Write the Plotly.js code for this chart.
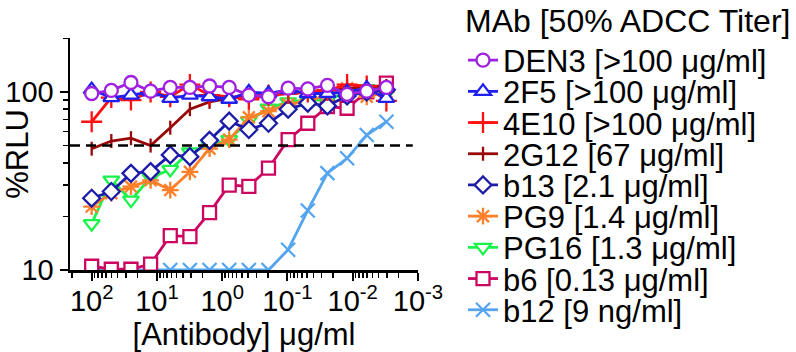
<!DOCTYPE html>
<html>
<head>
<meta charset="utf-8">
<script src="https://cdn.plot.ly/plotly-3.0.1.min.js"></script>
<style>
  html, body { margin: 0; padding: 0; background: #ffffff; }
  #chart { width: 796px; height: 352px; }
</style>
</head>
<body>
<div id="chart"></div>
<script>
// Two-fold antibody dilution series (µg/ml)
const concentration = [100, 50, 25, 12.5, 6.25, 3.125, 1.5625, 0.78125, 0.390625,
  0.1953125, 0.09765625, 0.048828125, 0.0244140625, 0.01220703125,
  0.006103515625, 0.0030517578125];

// %RLU for each monoclonal antibody
const den3 = [98, 102, 113, 101, 106, 106, 108, 106, 96, 94, 105, 104, 109, 97, 101, 106];
const mab2F5 = [103, 93, 96, 100, 92, 96, 94, 91, 100, 98, 103, 98, 98, 100, 105, 92];
const mab4E10 = [68, 93, 90, 100, 94, 110, 96, 94, 91, 96, 98, 100, 102, 110, 108, 89];
const mab2G12 = [48, 53, 55, 50, 63, 80, 88, 92, 94, 96, 98, 100, 102, 104, 107, 108];
const b13 = [25.3, 27.6, 34.9, 35.7, 44.3, 43.3, 53.5, 68.5, 61.5, 66.7, 80, 86.5, 83.5, 95, 100, 103];
const pg9 = [22.7, 27, 29.4, 31.9, 28.1, 35.6, 48, 54, 72, 78, 85, 90, 95, 105, 94, 100];
const pg16 = [18.2, 32, 24.7, 33, 36.7, 46, 50, 54, 69, 81, 88, 90, 90, 100, 104, 98];
const b6 = [10.5, 10.1, 10.1, 10.8, 15.6, 15.4, 21, 30, 29.5, 37.3, 54, 66.7, 82.7, 81, 100, 112];
const b12 = [10, 10, 10, 10, 10, 10, 10, 10, 10, 10, 13, 21.6, 35, 42.4, 57.3, 68];

// Legend labels (50% ADCC titer)
const seriesNames = ["DEN3 [>100 \u03bcg/ml]", "2F5 [>100 \u03bcg/ml]", "4E10 [>100 \u03bcg/ml]",
  "2G12 [67 \u03bcg/ml]", "b13 [2.1 \u03bcg/ml]", "PG9 [1.4 \u03bcg/ml]", "PG16 [1.3 \u03bcg/ml]",
  "b6 [0.13 \u03bcg/ml]", "b12 [9 ng/ml]"];
const seriesValues = [den3, mab2F5, mab4E10, mab2G12, b13, pg9, pg16, b6, b12];

const legendTitle = "MAb [50% ADCC Titer]";
const xTickVals = [100, 10, 1, 0.1, 0.01, 0.001];
const xTickText = ["10<sup>2</sup>", "10<sup>1</sup>", "10<sup>0</sup>", "10<sup>-1</sup>",
  "10<sup>-2</sup>", "10<sup>-3</sup>"];
const yTickVals = [10, 100];
const yTickText = ["10", "100"];
const halfMaximal = 50;

// Marker / line styling per series
const styles = [
  {color: "#a020e0", symbol: "circle", size: 13, fill: "white"},
  {color: "#1f1ff0", symbol: "triangle-up", size: 14, fill: "white"},
  {color: "#ff1010", symbol: "cross-thin", size: 15, fill: null},
  {color: "#990808", symbol: "line-ns", size: 10, fill: null},
  {color: "#1c1ca8", symbol: "diamond", size: 13, fill: "white"},
  {color: "#ff7f2a", symbol: "asterisk", size: 14, fill: null},
  {color: "#19f44a", symbol: "triangle-down", size: 14, fill: "white"},
  {color: "#cc0660", symbol: "square", size: 13, fill: "white"},
  {color: "#55a5ee", symbol: "x-thin", size: 14, fill: null}
];

const FONT = "Liberation Sans, Arial, Helvetica, sans-serif";

// Plot area geometry in pixels
const W = 796, H = 352;
const M = {l: 70, r: 378, t: 38, b: 82};
const plotH = H - M.t - M.b, plotW = W - M.l - M.r;
const toPaperY = py => (H - M.b - py) / plotH;
const toPaperX = px => (px - M.l) / plotW;

const legendLeftPx = 463;
const legendFirstPx = 60.5;
const legendStepPx = 31.2;

const traces = [];
const layoutLegends = {};
for (let k = seriesNames.length - 1; k >= 0; k--) {
  const s = styles[k];
  const legendKey = k === 0 ? "legend" : "legend" + (k + 1);
  traces.push({
    type: "scatter",
    mode: "lines+markers",
    name: seriesNames[k],
    x: concentration,
    y: seriesValues[k],
    legend: legendKey,
    line: {color: s.color, width: 2.8},
    marker: {
      symbol: s.symbol,
      size: s.size,
      color: s.fill || s.color,
      line: {color: s.color, width: 2.3}
    },
    cliponaxis: true
  });
  layoutLegends[legendKey] = {
    x: toPaperX(legendLeftPx),
    y: toPaperY(legendFirstPx + k * legendStepPx),
    xanchor: "left",
    yanchor: "middle",
    bgcolor: "rgba(0,0,0,0)",
    borderwidth: 0,
    font: {family: FONT, size: 31, color: "#000"},
    itemclick: false,
    itemdoubleclick: false
  };
}

const layout = Object.assign({
  width: W,
  height: H,
  margin: M,
  paper_bgcolor: "#ffffff",
  plot_bgcolor: "#ffffff",
  font: {family: FONT, color: "#000"},
  showlegend: true,
  xaxis: {
    type: "log",
    range: [2.332, -3],
    tickvals: xTickVals,
    ticktext: xTickText,
    ticks: "outside",
    ticklen: 8,
    tickwidth: 2,
    tickcolor: "#000",
    ticklabelstandoff: -4,
    minor: {ticks: "outside", ticklen: 5, tickwidth: 1.5, tickcolor: "#000", dtick: "D1"},
    showline: true,
    linewidth: 2.5,
    linecolor: "#000",
    showgrid: false,
    zeroline: false,
    tickfont: {family: FONT, size: 29, color: "#000"},
    title: {text: "[Antibody] \u03bcg/ml", font: {family: FONT, size: 31, color: "#000"}, standoff: 14}
  },
  yaxis: {
    type: "log",
    range: [1, 2.303],
    tickvals: yTickVals,
    ticktext: yTickText,
    ticks: "outside",
    ticklen: 8,
    tickwidth: 2,
    tickcolor: "#000",
    minor: {ticks: "outside", ticklen: 5, tickwidth: 1.5, tickcolor: "#000", dtick: "D1"},
    showline: true,
    linewidth: 2.5,
    linecolor: "#000",
    showgrid: false,
    zeroline: false,
    tickfont: {family: FONT, size: 29, color: "#000"},
    title: {text: "%RLU", font: {family: FONT, size: 31, color: "#000"}, standoff: 10}
  },
  shapes: [{
    type: "line",
    xref: "paper", yref: "y",
    x0: 0, x1: 0.985,
    y0: halfMaximal, y1: halfMaximal,
    line: {color: "#000", width: 2.5, dash: "10px,6px"},
    layer: "above"
  }],
  annotations: [{
    text: legendTitle,
    xref: "paper", yref: "paper",
    x: toPaperX(legendLeftPx), y: toPaperY(21),
    xanchor: "left", yanchor: "middle",
    showarrow: false,
    font: {family: FONT, size: 32, color: "#000"}
  }]
}, layoutLegends);

Plotly.newPlot("chart", traces, layout, {displayModeBar: false, staticPlot: true});
</script>
</body>
</html>
